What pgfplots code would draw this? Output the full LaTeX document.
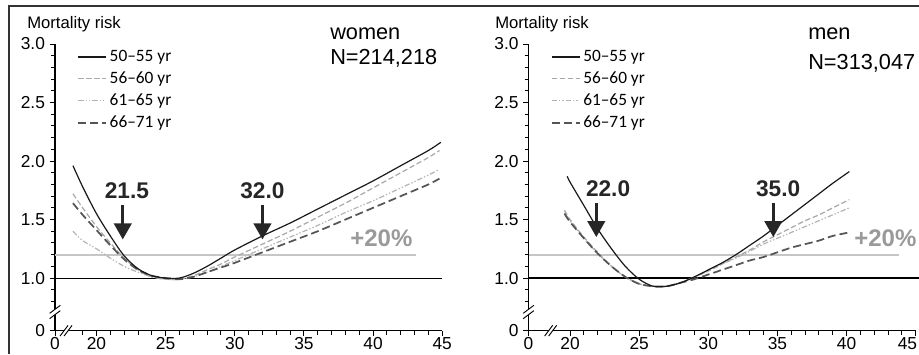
\documentclass[border=0pt]{standalone}
\usepackage{fontspec}
\setmainfont{Liberation Sans}
\newfontfamily\legfont{Carlito}
\usepackage{pgfplots}
\pgfplotsset{compat=1.18}
\usetikzlibrary{arrows.meta}
\definecolor{lgray}{HTML}{A8A8A8}
\definecolor{mgray}{HTML}{B4B4B4}
\definecolor{dgray}{HTML}{555555}
\definecolor{refgray}{HTML}{C6C6C6}
\definecolor{pctgray}{HTML}{9A9A9A}
\definecolor{framec}{HTML}{333333}

\pgfplotsset{
 panel/.style={
  scale only axis, width=290.4pt, height=215pt,
  xmin=17, xmax=45, ymin=0.55, ymax=3.0,
  axis lines=left, axis line style={-, line width=0.8pt},
  xtick={17,20,25,30,35,40,45},
  ytick={0.55,1,1.5,2,2.5,3}, yticklabels={0,1.0,1.5,2.0,2.5,3.0},
  minor ytick={0.8,0.9,1.1,1.2,1.3,1.4,1.6,1.7,1.8,1.9,2.1,2.2,2.3,2.4,2.6,2.7,2.8,2.9},
  tick align=outside, major tick length=4pt, minor tick length=3pt,
  tick style={line width=0.7pt, black},
  ticklabel style={font=\fontsize{13}{15}\selectfont},
  xticklabel style={inner sep=0.8pt},
  /pgf/number format/assume math mode=true,
  clip=false,
  legend style={draw=none, fill=none, font=\legfont\fontsize{13}{14}\selectfont,
     at={(0.057,0.988)}, anchor=north west, row sep=2.2pt, inner sep=0pt},
  legend cell align=left,
  legend image code/.code={\draw[##1] (0pt,0pt) -- (21pt,0pt);},
 },
 s1/.style={black!90, line width=0.9pt},
 s2/.style={lgray, line width=0.9pt, dash pattern=on 4pt off 2pt},
 s3/.style={mgray, line width=0.9pt, dash pattern=on 4pt off 1.5pt on 1pt off 1.5pt on 1pt off 1.5pt},
 s4/.style={dgray, line width=1.3pt, dash pattern=on 6pt off 3pt},
}

\begin{document}
\begin{tikzpicture}
\useasboundingbox (0,0) rectangle (689.25pt,265.5pt);
\fill[white] (0,0) rectangle (689.25pt,265.5pt);
\draw[framec, line width=1.5pt] (6.75pt,0pt) -- (6.75pt,261pt) -- (689.25pt,261pt);

% ---------- women ----------
\begin{axis}[panel, at={(41.25pt,17.48pt)}, anchor=south west,
  xticklabels={0,20,25,30,35,40,45},
  minor xtick={19,21,22,23,24,26,27,28,29,31,32,33,34,36,37,38,39,41,42,43,44}]
\addlegendimage{s1}\addlegendentry{50–55 yr}
\addlegendimage{s2}\addlegendentry{56–60 yr}
\addlegendimage{s3}\addlegendentry{61–65 yr}
\addlegendimage{s4}\addlegendentry{66–71 yr}
\addplot[refgray, line width=1.6pt, forget plot] coordinates {(17,1.2) (43.1,1.2)};
\addplot[black, line width=0.6pt, forget plot] coordinates {(17,1) (45,1)};
\addplot[s3, smooth, forget plot] coordinates {
(18.3,1.40) (19,1.32) (20,1.25) (21,1.17) (22,1.10) (23,1.05) (24,1.01) (25,0.99) (26,0.99) (27,1.01) (28,1.05) (29,1.10) (30,1.15) (32,1.25) (34,1.35) (36,1.45) (38,1.56) (40,1.66) (42,1.77) (44,1.88) (44.8,1.93)};
\addplot[s2, smooth, forget plot] coordinates {
(18.3,1.72) (19,1.60) (20,1.44) (21,1.30) (22,1.17) (23,1.07) (24,1.01) (25,0.99) (26,0.99) (27,1.02) (28,1.07) (29,1.12) (30,1.18) (32,1.29) (34,1.40) (36,1.52) (38,1.64) (40,1.77) (42,1.90) (44,2.03) (44.8,2.09)};
\addplot[s4, smooth, forget plot] coordinates {
(18.3,1.64) (19,1.54) (20,1.41) (21,1.28) (22,1.16) (23,1.07) (24,1.02) (25,1.00) (26,0.99) (27,1.01) (28,1.05) (29,1.09) (30,1.13) (32,1.22) (34,1.31) (36,1.40) (38,1.50) (40,1.60) (42,1.70) (44,1.80) (44.8,1.85)};
\addplot[s1, smooth, forget plot] coordinates {
(18.3,1.96) (19,1.78) (20,1.55) (21,1.36) (22,1.19) (23,1.08) (24,1.02) (25,1.00) (26,1.00) (27,1.04) (28,1.10) (29,1.17) (30,1.24) (32,1.36) (34,1.47) (36,1.59) (38,1.71) (40,1.83) (42,1.96) (44,2.09) (44.9,2.16)};
% arrows and labels
\draw[-{Triangle[width=13pt,length=12pt]}, line width=2.2pt, black!85] (axis cs:21.9,1.62) -- (axis cs:21.9,1.33);
\draw[-{Triangle[width=13pt,length=12pt]}, line width=2.2pt, black!85] (axis cs:32.0,1.62) -- (axis cs:32.0,1.33);
\node[font=\bfseries\fontsize{17}{20}\selectfont, text=black!85] at (axis cs:22.2,1.75) {21.5};
\node[font=\bfseries\fontsize{17}{20}\selectfont, text=black!85] at (axis cs:32.0,1.75) {32.0};
\node[font=\bfseries\fontsize{18}{20}\selectfont, text=pctgray] at (axis cs:40.6,1.34) {+20\%};
% axis breaks
\fill[white] ([shift={(-4pt,-5pt)}]axis cs:17,0.71) -- ([shift={(4pt,1pt)}]axis cs:17,0.71) -- ([shift={(4pt,5pt)}]axis cs:17,0.71) -- ([shift={(-4pt,-1pt)}]axis cs:17,0.71) -- cycle;
\draw[line width=0.7pt] ([shift={(-4pt,-5pt)}]axis cs:17,0.71) -- ++(8pt,6pt);
\draw[line width=0.7pt] ([shift={(-4pt,-1pt)}]axis cs:17,0.71) -- ++(8pt,6pt);
\fill[white] ([shift={(-4.5pt,-4pt)}]axis cs:17.8,0.55) -- ([shift={(-1.5pt,-4pt)}]axis cs:17.8,0.55) -- ([shift={(4.5pt,4pt)}]axis cs:17.8,0.55) -- ([shift={(1.5pt,4pt)}]axis cs:17.8,0.55) -- cycle;
\draw[line width=0.7pt] ([shift={(-4.5pt,-4pt)}]axis cs:17.8,0.55) -- ++(6pt,8pt);
\draw[line width=0.7pt] ([shift={(-1.5pt,-4pt)}]axis cs:17.8,0.55) -- ++(6pt,8pt);
\end{axis}

% ---------- men ----------
\begin{axis}[panel, at={(396.4pt,17.48pt)}, anchor=south west,
  xticklabels={0,20,25,30,35,40,\makebox[0pt][r]{45\hspace*{-1pt}}},
  minor xtick={21,22,23,24,26,27,28,29,31,32,33,34,36,37,38,39,41,42,43,44}]
\addlegendimage{s1}\addlegendentry{50–55 yr}
\addlegendimage{s2}\addlegendentry{56–60 yr}
\addlegendimage{s3}\addlegendentry{61–65 yr}
\addlegendimage{s4}\addlegendentry{66–71 yr}
\addplot[refgray, line width=1.6pt, forget plot] coordinates {(17,1.2) (43.8,1.2)};
\addplot[black, line width=1.2pt, forget plot] coordinates {(17,1) (45.5,1)};
\addplot[s3, smooth, forget plot] coordinates {
(19.6,1.56) (20,1.49) (21,1.34) (22,1.21) (23,1.10) (24,1.01) (25,0.95) (26,0.93) (27,0.93) (28,0.96) (29,1.01) (30,1.06) (31,1.12) (32,1.17) (33,1.23) (34,1.29) (35,1.34) (36,1.39) (37,1.44) (38,1.49) (39,1.54) (40.2,1.60)};
\addplot[s2, smooth, forget plot] coordinates {
(19.6,1.58) (20,1.50) (21,1.35) (22,1.22) (23,1.10) (24,1.01) (25,0.95) (26,0.93) (27,0.93) (28,0.96) (29,1.01) (30,1.06) (31,1.12) (32,1.18) (33,1.24) (34,1.31) (35,1.37) (36,1.43) (37,1.49) (38,1.54) (39,1.60) (40.2,1.67)};
\addplot[s4, smooth, forget plot] coordinates {
(19.6,1.55) (20,1.48) (21,1.34) (22,1.21) (23,1.10) (24,1.01) (25,0.95) (26,0.93) (27,0.93) (28,0.96) (29,0.99) (30,1.03) (31,1.07) (32,1.11) (33,1.15) (34,1.18) (35,1.22) (36,1.26) (37,1.29) (38,1.32) (39,1.36) (40.2,1.39)};
\addplot[s1, smooth, forget plot] coordinates {
(19.8,1.87) (20,1.82) (21,1.62) (22,1.42) (23,1.25) (24,1.10) (25,0.99) (26,0.93) (27,0.93) (28,0.96) (29,1.01) (30,1.07) (31,1.13) (32,1.20) (33,1.28) (34,1.36) (35,1.45) (36,1.54) (37,1.63) (38,1.72) (39,1.81) (40.2,1.91)};
\draw[-{Triangle[width=13pt,length=12pt]}, line width=2.2pt, black!85] (axis cs:21.9,1.64) -- (axis cs:21.9,1.35);
\draw[-{Triangle[width=13pt,length=12pt]}, line width=2.2pt, black!85] (axis cs:34.7,1.64) -- (axis cs:34.7,1.35);
\node[font=\bfseries\fontsize{17}{20}\selectfont, text=black!85] at (axis cs:22.75,1.76) {22.0};
\node[font=\bfseries\fontsize{17}{20}\selectfont, text=black!85] at (axis cs:35.05,1.76) {35.0};
\node[font=\bfseries\fontsize{18}{20}\selectfont, text=pctgray] at (axis cs:42.8,1.34) {+20\%};
\fill[white] ([shift={(-4pt,-5pt)}]axis cs:17,0.71) -- ([shift={(4pt,1pt)}]axis cs:17,0.71) -- ([shift={(4pt,5pt)}]axis cs:17,0.71) -- ([shift={(-4pt,-1pt)}]axis cs:17,0.71) -- cycle;
\draw[line width=0.7pt] ([shift={(-4pt,-5pt)}]axis cs:17,0.71) -- ++(8pt,6pt);
\draw[line width=0.7pt] ([shift={(-4pt,-1pt)}]axis cs:17,0.71) -- ++(8pt,6pt);
\fill[white] ([shift={(-4.5pt,-4pt)}]axis cs:18.6,0.55) -- ([shift={(-1.5pt,-4pt)}]axis cs:18.6,0.55) -- ([shift={(4.5pt,4pt)}]axis cs:18.6,0.55) -- ([shift={(1.5pt,4pt)}]axis cs:18.6,0.55) -- cycle;
\draw[line width=0.7pt] ([shift={(-4.5pt,-4pt)}]axis cs:18.6,0.55) -- ++(6pt,8pt);
\draw[line width=0.7pt] ([shift={(-1.5pt,-4pt)}]axis cs:18.6,0.55) -- ++(6pt,8pt);
\end{axis}

% ---------- titles ----------
\node[anchor=base west, inner sep=0pt, font=\fontsize{12.5}{14}\selectfont] at (20.25pt,244pt) {Mortality risk};
\node[anchor=base west, inner sep=0pt, font=\fontsize{12.5}{14}\selectfont] at (371.25pt,244pt) {Mortality risk};
\node[anchor=base west, inner sep=0pt, font=\fontsize{16.3}{18}\selectfont] at (247.5pt,235.5pt) {women};
\node[anchor=base west, inner sep=0pt, font=\fontsize{16.3}{18}\selectfont] at (247.5pt,216.75pt) {N=214,218};
\node[anchor=base west, inner sep=0pt, font=\fontsize{16.3}{18}\selectfont] at (606pt,235.5pt) {men};
\node[anchor=base west, inner sep=0pt, font=\fontsize{16.3}{18}\selectfont] at (606pt,213pt) {N=313,047};
\end{tikzpicture}
\end{document}
